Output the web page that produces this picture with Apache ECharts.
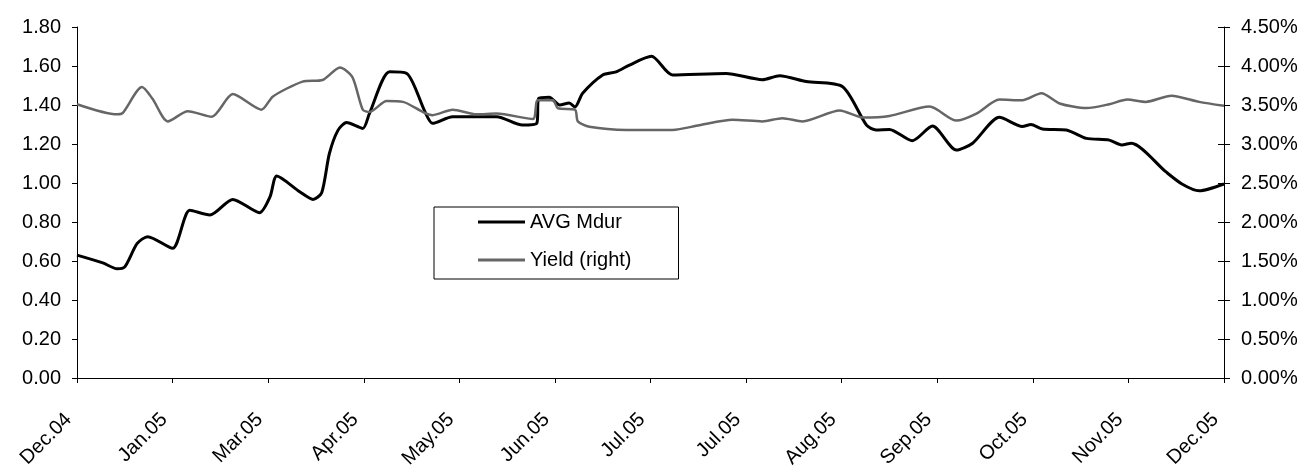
<!DOCTYPE html>
<html>
<head>
<meta charset="utf-8">
<script src="https://cdn.jsdelivr.net/npm/echarts@6/dist/echarts.min.js"></script>
<style>
html,body{margin:0;padding:0;background:#fff;}
#chart{width:1311px;height:474px;}
</style>
</head>
<body>
<div id="chart"></div>
<script>
// X-axis tick labels (one per tick, months since Dec.04)
const tickLabels = ['Dec.04','Jan.05','Mar.05','Apr.05','May.05','Jun.05','Jul.05','Jul.05','Aug.05','Sep.05','Oct.05','Nov.05','Dec.05'];

// AVG Mdur (left axis): positions in tick units, values
const mdurX = [0.00,0.27,0.42,0.50,0.63,0.74,1.00,1.18,1.39,1.63,1.91,2.02,2.09,2.33,2.47,2.56,2.64,2.73,2.82,2.99,3.06,3.27,3.45,3.64,3.72,3.93,4.39,4.66,4.81,4.83,4.94,5.05,5.15,5.21,5.29,5.50,5.64,5.78,6.01,6.23,6.79,7.17,7.35,7.63,8.01,8.26,8.36,8.50,8.74,8.95,9.20,9.37,9.65,9.89,9.98,10.10,10.35,10.56,10.80,10.93,11.03,11.39,11.56,11.74,12.00];
const mdurY = [0.63,0.59,0.56,0.57,0.69,0.725,0.665,0.86,0.836,0.916,0.848,0.93,1.036,0.955,0.916,0.95,1.15,1.27,1.31,1.28,1.357,1.57,1.562,1.366,1.306,1.34,1.34,1.297,1.306,1.434,1.44,1.40,1.41,1.39,1.46,1.554,1.57,1.605,1.65,1.554,1.562,1.53,1.55,1.52,1.494,1.297,1.272,1.275,1.217,1.292,1.169,1.204,1.337,1.29,1.30,1.277,1.272,1.229,1.22,1.195,1.204,1.058,0.995,0.96,0.995];

// Yield (right axis, %)
const yieldX = [0.00,0.42,0.48,0.68,0.79,0.95,1.16,1.41,1.63,1.93,2.05,2.36,2.57,2.75,2.88,2.99,3.06,3.24,3.41,3.62,3.72,3.93,4.18,4.39,4.77,4.82,4.98,5.03,5.21,5.24,5.36,5.75,6.23,6.51,6.86,7.17,7.38,7.59,7.98,8.22,8.50,8.92,9.20,9.41,9.65,9.89,10.09,10.28,10.56,10.80,10.99,11.18,11.45,11.74,12.00];
const yieldY = [3.51,3.38,3.40,3.73,3.58,3.29,3.42,3.35,3.64,3.44,3.61,3.80,3.82,3.98,3.86,3.44,3.41,3.55,3.54,3.41,3.37,3.44,3.38,3.39,3.32,3.56,3.56,3.46,3.44,3.29,3.22,3.18,3.18,3.24,3.31,3.29,3.33,3.29,3.43,3.34,3.36,3.48,3.30,3.39,3.57,3.56,3.65,3.52,3.46,3.51,3.57,3.54,3.62,3.54,3.49];

const FONT = 'Liberation Sans';
const FS = 20;
const mdurData = mdurX.map((x,i)=>[x, mdurY[i]]);
const yieldData = yieldX.map((x,i)=>[x, yieldY[i]]);

const chart = echarts.init(document.getElementById('chart'));
chart.setOption({
  animation:false,
  backgroundColor:'#fff',
  textStyle:{fontFamily:FONT, color:'#000'},
  grid:{left:77, right:87, top:27, bottom:96, containLabel:false},
  legend:{
    orient:'vertical', left:434, top:207,
    padding:[5,47,9,44], itemGap:18,
    itemWidth:47, itemHeight:3, icon:'rect',
    borderColor:'#000', borderWidth:1,
    textStyle:{fontSize:FS, fontFamily:FONT, color:'#000'},
    data:['AVG Mdur','Yield (right)']
  },
  xAxis:{
    type:'value', min:0, max:12, interval:1,
    axisLine:{lineStyle:{color:'#000', width:1}},
    axisTick:{show:true, length:5, lineStyle:{color:'#000'}},
    splitLine:{show:false},
    axisLabel:{rotate:45, margin:30, padding:[0,12,0,0], fontSize:FS, fontFamily:FONT, color:'#000',
      formatter:(v)=>tickLabels[Math.round(v)] || ''}
  },
  yAxis:[
    {type:'value', min:0, max:1.8, interval:0.2, position:'left',
     axisLine:{show:true, lineStyle:{color:'#000'}},
     axisTick:{show:true, length:5, lineStyle:{color:'#000'}},
     splitLine:{show:false},
     axisLabel:{margin:16, fontSize:FS, fontFamily:FONT, color:'#000', formatter:(v)=>v.toFixed(2)}},
    {type:'value', min:0, max:4.5, interval:0.5, position:'right',
     axisLine:{show:true, lineStyle:{color:'#000'}},
     axisTick:{show:true, length:6, lineStyle:{color:'#000'}},
     splitLine:{show:false},
     axisLabel:{margin:17, fontSize:FS, fontFamily:FONT, color:'#000', formatter:(v)=>v.toFixed(2)+'%'}},
    {type:'value', min:0, max:4.5, interval:0.5, position:'right',
     axisLine:{show:false},
     axisTick:{show:true, inside:true, length:6, lineStyle:{color:'#000'}},
     splitLine:{show:false},
     axisLabel:{show:false}}
  ],
  series:[
    {name:'AVG Mdur', type:'line', yAxisIndex:0, data:mdurData, symbol:'none', smooth:0.25,
     lineStyle:{color:'#000', width:3}, itemStyle:{color:'#000'}},
    {name:'Yield (right)', type:'line', yAxisIndex:1, data:yieldData, symbol:'none', smooth:0.25,
     lineStyle:{color:'#666', width:2.5}, itemStyle:{color:'#666'}}
  ]
});
</script>
</body>
</html>
